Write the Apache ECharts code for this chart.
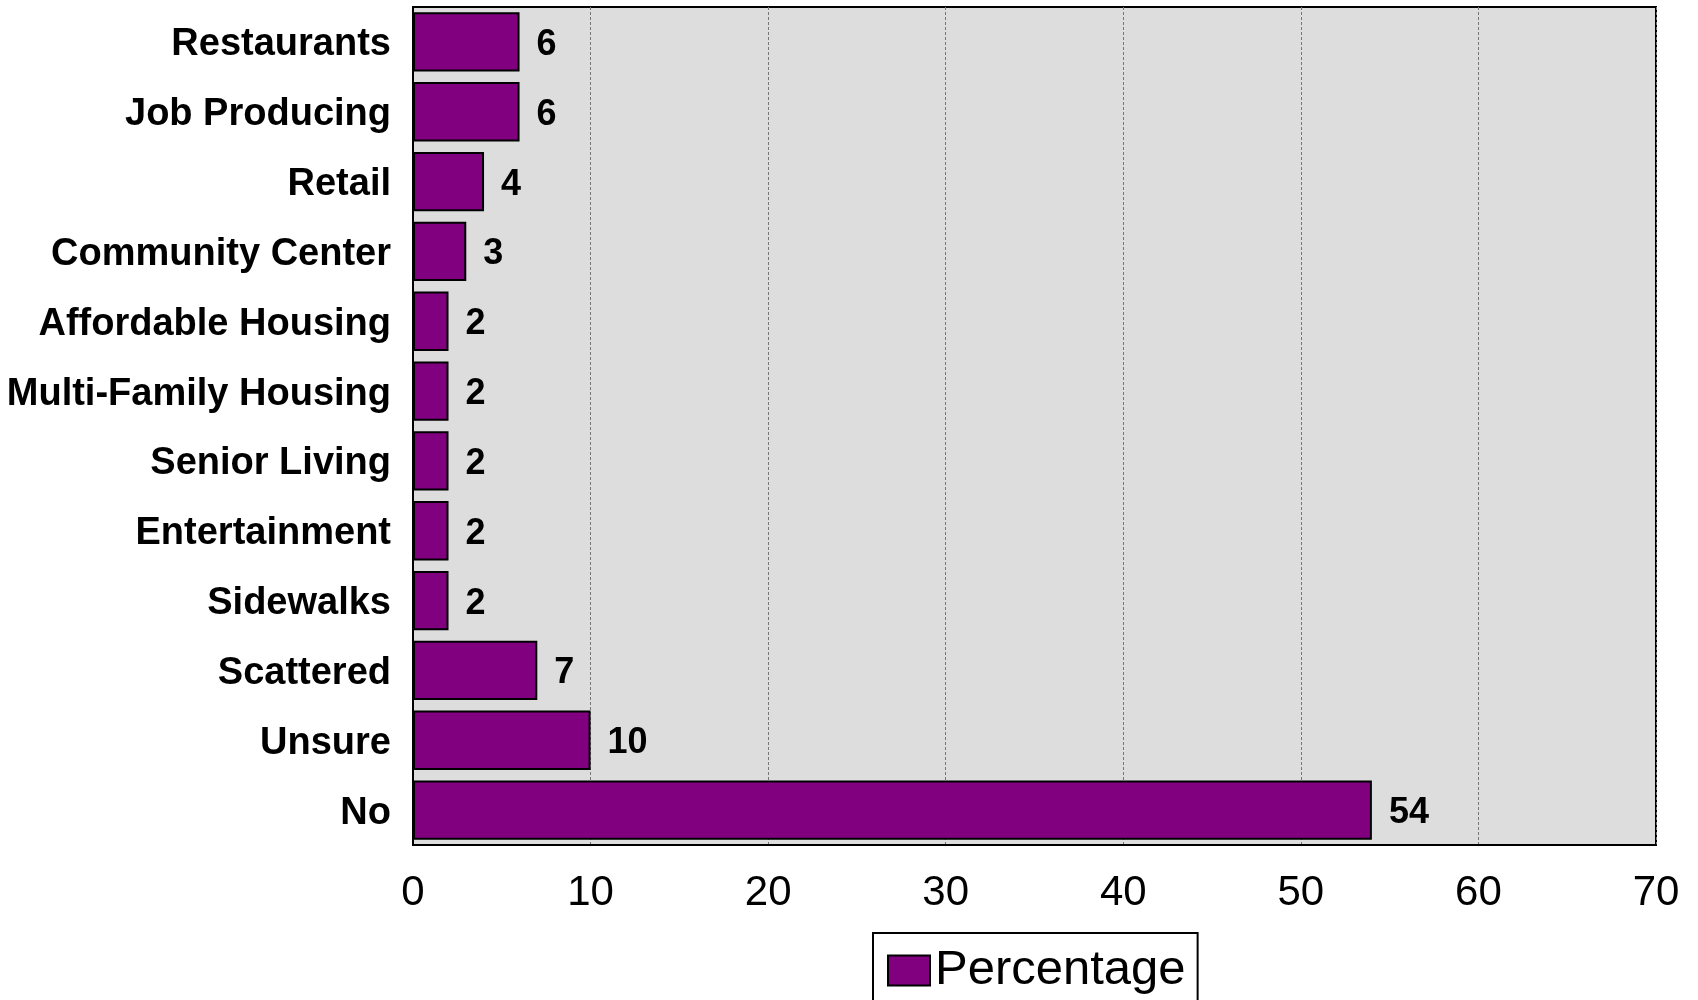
<!DOCTYPE html>
<html>
<head>
<meta charset="utf-8">
<script src="https://cdn.jsdelivr.net/npm/echarts@6/dist/echarts.min.js"></script>
<style>
html,body{margin:0;padding:0;background:#fff;}
#chart{width:1698px;height:1000px;}
</style>
</head>
<body>
<div id="chart"></div>
<script>
const categories = ['Restaurants','Job Producing','Retail','Community Center','Affordable Housing','Multi-Family Housing','Senior Living','Entertainment','Sidewalks','Scattered','Unsure','No'];
const percentage = [6,6,4,3,2,2,2,2,2,7,10,54];
const xTicks = [0,10,20,30,40,50,60,70];
const seriesName = 'Percentage';

const chart = echarts.init(document.getElementById('chart'));
const FONT = '"Liberation Sans", Arial, sans-serif';
chart.setOption({
  animation: false,
  backgroundColor: '#ffffff',
  grid: {
    left: 413, right: 42, top: 7, bottom: 155,
    show: true, backgroundColor: '#dddddd', borderColor: '#000', borderWidth: 2
  },
  legend: {
    data: [seriesName],
    left: 873, top: 933,
    orient: 'horizontal',
    padding: [13, 12, 13, 14],
    itemWidth: 42, itemHeight: 30, itemGap: 9,
    borderColor: '#000', borderWidth: 2, backgroundColor: '#fff',
    icon: 'rect',
    textStyle: { fontFamily: FONT, fontSize: 49, color: '#000', padding: [0,0,0,0] }
  },
  xAxis: {
    type: 'value', min: xTicks[0], max: xTicks[xTicks.length-1], interval: 10,
    axisLine: { show: true, lineStyle: { color: '#000', width: 2 } },
    axisTick: { show: false },
    axisLabel: { fontFamily: FONT, fontSize: 42, color: '#000', margin: 27 },
    splitLine: { show: true, lineStyle: { color: '#777', type: [3, 2], width: 1 } }
  },
  yAxis: {
    type: 'category', data: categories, inverse: true,
    axisLine: { show: true, lineStyle: { color: '#000', width: 2 } },
    axisTick: { show: false },
    axisLabel: { fontFamily: FONT, fontSize: 38, fontWeight: 'bold', color: '#000', margin: 22, verticalAlign: 'top', lineHeight: 6 }
  },
  series: [{
    name: seriesName,
    type: 'bar',
    data: percentage,
    barCategoryGap: '15%',
    itemStyle: { color: '#800080', borderColor: '#000', borderWidth: 2 },
    label: {
      show: true, position: 'right', distance: 17, verticalAlign: 'top', lineHeight: 6,
      fontFamily: FONT, fontSize: 36, fontWeight: 'bold', color: '#000'
    }
  }]
});
</script>
</body>
</html>
